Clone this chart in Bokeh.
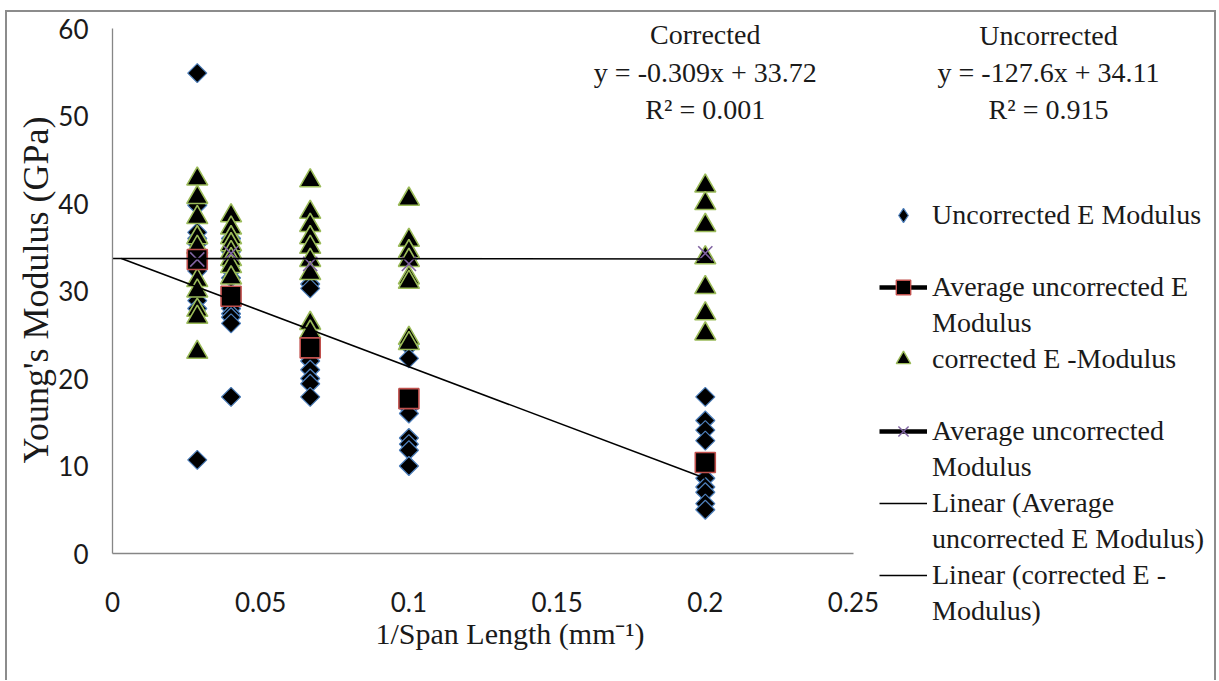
import math
from bokeh.plotting import figure
from bokeh.layouts import row
from bokeh.models import (Legend, LegendItem, Label, Range1d, FixedTicker,
                          NumeralTickFormatter, Title)
from bokeh.embed import file_html
from bokeh.resources import INLINE

# ---------------- data ----------------
# 1/span length (mm^-1) for span lengths 35, 25, 15, 10, 5 mm
inv_span = [0.0286, 0.04, 0.0667, 0.1, 0.2]

# individual specimens, one list per span length (GPa)
uncorrected_e = [
    [54.9, 39.8, 36.7, 36.0, 35.4, 33.0, 32.3, 28.9, 28.0, 10.7],
    [36.0, 34.5, 33.0, 32.3, 31.5, 28.0, 27.4, 27.0, 26.3, 17.9],
    [30.8, 30.3, 25.9, 24.5, 22.0, 21.0, 20.0, 19.4, 17.9],
    [33.8, 23.7, 22.3, 16.6, 16.0, 13.2, 12.5, 11.8, 10.0],
    [17.9, 15.2, 14.1, 12.9, 8.6, 7.6, 7.0, 5.7, 5.0],
]
corrected_e = [
    [42.8, 40.7, 38.4, 36.1, 35.0, 31.2, 30.0, 27.8, 27.0, 23.0],
    [38.6, 37.2, 36.1, 35.3, 34.4, 33.6, 32.8, 31.5],
    [42.6, 39.0, 37.5, 36.1, 35.0, 33.5, 32.0, 26.3, 25.3],
    [40.5, 35.8, 34.5, 33.5, 31.5, 31.0, 24.6, 24.0],
    [42.0, 40.0, 37.5, 33.8, 30.4, 27.4, 25.1],
]
avg_uncorrected = [33.6, 29.4, 23.5, 17.7, 10.4]
avg_corrected = [33.6, 34.3, 33.1, 33.1, 34.3]

# linear trend lines (Excel)
trend_names = ["Corrected", "Uncorrected"]
trend_slope = [-0.309, -127.6]
trend_intercept = [33.72, 34.11]
trend_r2 = [0.001, 0.915]
trend_x_start = [0.0, 0.003]
trend_x_end = [0.2, 0.2]

x_ticks = [0, 0.05, 0.1, 0.15, 0.2, 0.25]
y_ticks = [0, 10, 20, 30, 40, 50, 60]

x_title = "1/Span Length (mm\u207b\u00b9)"
y_title = "Young's Modulus (GPa)"

legend_labels = [
    ["Uncorrected E Modulus", "\u00a0"],
    ["Average uncorrected E", "Modulus"],
    ["corrected E -Modulus", "\u00a0"],
    ["Average uncorrected", "Modulus"],
    ["Linear (Average", "uncorrected E Modulus)"],
    ["Linear (corrected E -", "Modulus)"],
]

SERIF = "Liberation Serif"
SANS = "Lato"
TXT = "#1a1a1a"
C_UNC, C_COR, C_AVGU, C_AVGC = "#4F81BD", "#9BBB59", "#C0504D", "#8064A2"

# ---------------- main figure ----------------
MAIN_W, SIDE_W, H = 872, 335, 668
p = figure(width=MAIN_W, height=H, x_range=Range1d(0, 0.25),
           y_range=Range1d(0, 541 / 8.75),
           output_backend="svg", toolbar_location=None,
           min_border_left=105, min_border_right=26, min_border_top=0,
           min_border_bottom=127)
p.frame_align = False
p.grid.visible = False
p.outline_line_color = None
p.background_fill_color = "white"
p.border_fill_color = "white"

for ax in (p.xaxis[0], p.yaxis[0]):
    ax.axis_line_color = "#868686"
    ax.axis_line_width = 1.3
    ax.major_tick_line_color = None
    ax.minor_tick_line_color = None
    ax.major_tick_out = 0
    ax.major_tick_in = 0
    ax.major_label_text_font = SANS
    ax.major_label_text_font_size = "26px"
    ax.major_label_text_color = TXT

p.xaxis.ticker = FixedTicker(ticks=x_ticks)
p.xaxis.formatter = NumeralTickFormatter(format="0.[00]")
p.xaxis.major_label_standoff = 38

p.yaxis.ticker = FixedTicker(ticks=y_ticks)
p.yaxis.bounds = (y_ticks[0], y_ticks[-1])
p.yaxis.major_label_standoff = 24

# axis titles (as panel titles so they can be placed like the original)
p.add_layout(Title(text=x_title, align="left", offset=263, standoff=0,
                   text_font=SERIF, text_font_size="30px", text_font_style="normal",
                   text_color=TXT), "below")
p.add_layout(Title(text=y_title, align="left", offset=90, standoff=0,
                   text_font=SERIF, text_font_size="36px", text_font_style="normal",
                   text_color=TXT), "left")

# scatter series
ux, uy, cx, cy = [], [], [], []
for xv, vals in zip(inv_span, uncorrected_e):
    ux += [xv] * len(vals)
    uy += vals
for xv, vals in zip(inv_span, corrected_e):
    cx += [xv] * len(vals)
    cy += vals

p.scatter(ux, uy, marker="square", angle=math.pi / 4, size=13.5,
          fill_color="black", line_color=C_UNC, line_width=1.2)
p.scatter(cx, cy, marker="triangle", size=21,
          fill_color="black", line_color=C_COR, line_width=1.6)
p.scatter(inv_span, avg_uncorrected, marker="square", size=20,
          fill_color="black", line_color=C_AVGU, line_width=1.6)
p.scatter(inv_span, avg_corrected, marker="x", size=20,
          line_color=C_AVGC, line_width=1.6)

# trend lines
for s, b, x0, x1 in zip(trend_slope, trend_intercept, trend_x_start, trend_x_end):
    p.line([x0, x1], [s * x0 + b, s * x1 + b], line_color="black", line_width=1.6)

def eq_text(name, s, b, r2):
    return f"{name}\ny = {s:g}x + {b:.2f}\nR\u00b2 = {r2:.3f}"

EQ_STYLE = dict(text_align="center", text_baseline="top", text_font=SERIF,
                text_font_size="28px", text_line_height=1.2, text_color=TXT)

# "Corrected" equation inside the plot area
p.add_layout(Label(x=0.2, y=61.05,
                   text=eq_text(trend_names[0], trend_slope[0], trend_intercept[0], trend_r2[0]),
                   **EQ_STYLE))

# ---------------- side panel: legend + "Uncorrected" equation ----------------
s2 = figure(width=SIDE_W, height=H, x_range=Range1d(0, SIDE_W), y_range=Range1d(0, H),
            x_axis_type=None, y_axis_type=None, output_backend="svg",
            toolbar_location=None, min_border=0)
s2.frame_align = False
s2.grid.visible = False
s2.outline_line_color = None
s2.background_fill_color = "white"
s2.border_fill_color = "white"

s2.add_layout(Label(x=169, y=661,
                    text=eq_text(trend_names[1], trend_slope[1], trend_intercept[1], trend_r2[1]),
                    **EQ_STYLE))

# legend swatches (one point each, placed outside the visible range)
hx, hy = [-100], [-100]
g_unc = s2.scatter(hx, hy, marker="diamond", fill_color="black", line_color=C_UNC, line_width=1.2)
g_cor = s2.scatter(hx, hy, marker="triangle", fill_color="black", line_color=C_COR, line_width=1.4)
g_avgu = s2.scatter(hx, hy, marker="square", fill_color="black", line_color=C_AVGU, line_width=1.4)
g_avgc = s2.scatter(hx, hy, marker="x", line_color=C_AVGC, line_width=1.4)
g_thick1 = s2.line(hx * 2, hy * 2, line_color="black", line_width=4.5)
g_thick2 = s2.line(hx * 2, hy * 2, line_color="black", line_width=4.5)
g_lin1 = s2.line(hx * 2, hy * 2, line_color="black", line_width=1.6)
g_lin2 = s2.line(hx * 2, hy * 2, line_color="black", line_width=1.6)
g_none = s2.line(hx * 2, hy * 2, line_alpha=0)

swatches = [[g_unc], [g_thick1, g_avgu], [g_cor], [g_thick2, g_avgc], [g_lin1], [g_lin2]]
items = []
for lines, rends in zip(legend_labels, swatches):
    items.append(LegendItem(label=lines[0], renderers=rends))
    items.append(LegendItem(label=lines[1], renderers=[g_none]))

legend = Legend(items=items, location=(0, 51), orientation="vertical",
                label_text_font=SERIF, label_text_font_size="28px",
                label_text_color=TXT, label_height=36,
                glyph_width=48, glyph_height=36, label_standoff=5,
                spacing=0, padding=0, margin=0,
                border_line_color=None, background_fill_alpha=0)
s2.add_layout(legend, "center")

layout = row(p, s2)
layout.styles = {"margin-left": "5px", "margin-top": "10px",
                 "border-top": "2px solid #8c8c8c", "border-left": "2px solid #8c8c8c",
                 "border-right": "2px solid #8c8c8c"}

open("out.html", "w").write(file_html(layout, INLINE))
